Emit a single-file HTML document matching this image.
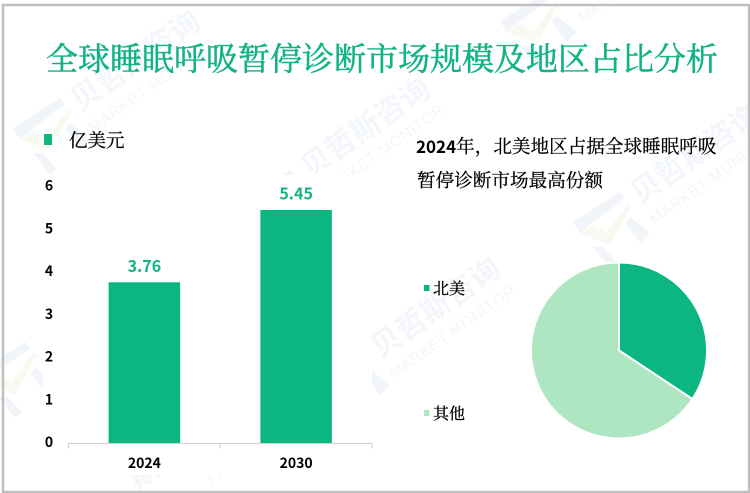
<!DOCTYPE html>
<html lang="zh-CN">
<head>
<meta charset="utf-8">
<title>全球睡眠呼吸暂停诊断市场规模及地区占比分析</title>
<style>
html,body{margin:0;padding:0;background:#fff;overflow:hidden;}
#stage{position:relative;width:750px;height:493px;overflow:hidden;background:#fff;}
svg{position:absolute;left:0;top:0;}
.wm-cn{font-family:"Liberation Sans","Noto Sans CJK SC",sans-serif;font-size:30px;font-weight:700;fill:#f3f6fa;}
.wm-en{font-family:"Liberation Sans",sans-serif;font-size:15.5px;fill:#f3f6fa;letter-spacing:.6px;}
.serif{font-family:"Liberation Serif","Noto Serif CJK SC",serif;}
.bold{font-family:"Noto Sans CJK SC","Liberation Sans",sans-serif;font-weight:700;}
</style>
</head>
<body>
<div id="stage">
<svg id="chart" width="750" height="493" viewBox="0 0 750 493">
  <defs>
    <g id="wm-logo">
      <polygon points="0,32 47,2 52,8 20,32 7,43" fill="#f1f5f9"/>
      <polygon points="7,43 37,55 59,15 55,13 34,42 20,35" fill="#f8faf1"/>
      <polygon points="57,27 77,43 67,53 52,33" fill="#f1f5f9"/>
      <polygon points="20,57 30,57 44,73 37,78" fill="#f1f5f9"/>
    </g>
  </defs>

  <g id="watermarks">
    <use href="#wm-logo" x="13" y="96"/>
    <use href="#wm-logo" x="243" y="168"/>
    <use href="#wm-logo" x="573" y="190"/>
    <use href="#wm-logo" x="500" y="-11"/>
    <use href="#wm-logo" x="-22" y="340"/>
    <use href="#wm-logo" x="313" y="342"/>
    <text class="wm-cn" transform="translate(80,112) rotate(-35)">贝哲斯咨询</text>
    <text class="wm-en" transform="translate(93,133) rotate(-35)">MARKET MONITOR</text>
    <text class="wm-cn" transform="translate(310,179) rotate(-35)">贝哲斯咨询</text>
    <text class="wm-en" transform="translate(323,198) rotate(-35)">MARKET MONITOR</text>
    <text class="wm-cn" transform="translate(640,205) rotate(-35)">贝哲斯咨询</text>
    <text class="wm-en" transform="translate(654,225) rotate(-35)">MARKET MONITOR</text>
    <text class="wm-cn" transform="translate(380,359) rotate(-35)">贝哲斯咨询</text>
    <text class="wm-en" transform="translate(394,379) rotate(-35)">MARKET MONITOR</text>
    <text class="wm-cn" transform="translate(137,490) rotate(-35)">斯咨询</text>
    <text class="wm-en" transform="translate(213,486) rotate(-35)">ITOR</text>
    <text class="wm-en" transform="translate(583,24) rotate(-35)">MARKET MONITOR</text>
  </g>

  <rect x="43" y="175" width="329" height="300" fill="#ffffff"/>

  <text x="46" y="70" class="serif" font-size="32" fill="#10b384" stroke="#10b384" stroke-width=".5" textLength="672" lengthAdjust="spacing">全球睡眠呼吸暂停诊断市场规模及地区占比分析</text>

  <rect x="44" y="134" width="8" height="11" fill="#0cb681"/>
  <text x="69" y="147" class="serif" font-size="18.5" fill="#000" stroke="#000" stroke-width=".25">亿美元</text>

  <g id="y-axis"></g>
  <g id="bars"></g>
  <g id="x-axis"></g>

  <text x="416" y="153" font-size="18.6" fill="#000"><tspan class="bold" font-size="17">2024</tspan><tspan class="serif" stroke="#000" stroke-width=".25">年，北美地区占据全球睡眠呼吸</tspan></text>
  <text x="417" y="187" class="serif" font-size="18.6" fill="#000" stroke="#000" stroke-width=".25">暂停诊断市场最高份额</text>

  <g id="pie"></g>
  <g id="pie-legend"></g>

  <rect x="3" y="5" width="746" height="487" fill="none" stroke="#bfbfbf" stroke-width="2.4"/>
</svg>
</div>

<script>
const barCategories = ['2024', '2030'];
const barValues = [3.76, 5.45];
const yTicks = [0, 1, 2, 3, 4, 5, 6];
const pieLabels = ['北美', '其他'];
const pieValues = [34.3, 65.7];

const NS = 'http://www.w3.org/2000/svg';
const BAR_COLOR = '#0cb681';
const PIE_COLORS = ['#0cb681', '#aee6c2'];

const plot = { left: 68.5, right: 372, base: 443, unit: 42.75, barWidth: 71.5 };
function yScale(v) { return plot.base - v * plot.unit; }
function bandWidth() { return (plot.right - plot.left) / barCategories.length; }
function xCenter(i) { return plot.left + bandWidth() * (i + 0.5); }

function svgEl(tag, attrs, text) {
  const el = document.createElementNS(NS, tag);
  Object.keys(attrs).forEach(function (k) { el.setAttribute(k, attrs[k]); });
  if (text !== undefined) el.textContent = text;
  return el;
}

const yAxis = document.getElementById('y-axis');
yTicks.forEach(function (t) {
  const label = svgEl('text', { x: 49, y: yScale(t) + 4, 'text-anchor': 'middle', 'font-size': 14, 'class': 'bold', fill: '#000' }, String(t));
  
  
  yAxis.appendChild(label);
});

const xAxis = document.getElementById('x-axis');
const axisLine = svgEl('line', { x1: plot.left, x2: plot.right, y1: plot.base + 0.5, y2: plot.base + 0.5, stroke: '#d0d0d0', 'stroke-width': 1 });


xAxis.appendChild(axisLine);
for (let i = 0; i <= barCategories.length; i++) {
  const tx = plot.left + bandWidth() * i;
  const tick = svgEl('line', { x1: tx, x2: tx, y1: plot.base, y2: plot.base + 5.5, stroke: '#d0d0d0', 'stroke-width': 1 });
  
  
  xAxis.appendChild(tick);
}
barCategories.forEach(function (c, i) {
  const label = svgEl('text', { x: xCenter(i), y: 468, 'text-anchor': 'middle', 'font-size': 14, 'class': 'bold', fill: '#000' }, c);
  
  
  xAxis.appendChild(label);
});

const barsGroup = document.getElementById('bars');
barValues.forEach(function (v, i) {
  const top = yScale(v);
  const bar = svgEl('rect', { x: xCenter(i) - plot.barWidth / 2, y: top, width: plot.barWidth, height: plot.base - top, fill: BAR_COLOR });
  
  
  barsGroup.appendChild(bar);
  const value = svgEl('text', { x: xCenter(i), y: top - 10.5, 'text-anchor': 'middle', 'font-size': 16, 'class': 'bold', fill: '#10b384' }, v.toFixed(2));
  
  
  barsGroup.appendChild(value);
});

const pieGeom = { cx: 619, cy: 350.5, r: 88 };
function piePoint(frac) {
  const a = frac * 2 * Math.PI;
  return [pieGeom.cx + pieGeom.r * Math.sin(a), pieGeom.cy - pieGeom.r * Math.cos(a)];
}
const pieGroup = document.getElementById('pie');
const pieTotal = pieValues.reduce(function (s, v) { return s + v; }, 0);
let pieCumulative = 0;
pieValues.forEach(function (v, i) {
  const start = pieCumulative / pieTotal;
  pieCumulative += v;
  const end = pieCumulative / pieTotal;
  const p0 = piePoint(start);
  const p1 = piePoint(end);
  const large = end - start > 0.5 ? 1 : 0;
  const d = 'M' + pieGeom.cx + ' ' + pieGeom.cy + 'L' + p0[0] + ' ' + p0[1] + 'A' + pieGeom.r + ' ' + pieGeom.r + ' 0 ' + large + ' 1 ' + p1[0] + ' ' + p1[1] + 'Z';
  const slice = svgEl('path', { d: d, fill: PIE_COLORS[i], stroke: '#ffffff', 'stroke-width': 2 });
  
  
  pieGroup.appendChild(slice);
});

const legendGroup = document.getElementById('pie-legend');
pieLabels.forEach(function (name, i) {
  const cy = 288 + i * 125;
  const swatch = svgEl('rect', { x: 424, y: cy - 3, width: 5.5, height: 6, fill: PIE_COLORS[i] });
  
  
  legendGroup.appendChild(swatch);
  const label = svgEl('text', { x: 433, y: cy + 6, 'font-size': 16, 'class': 'serif', fill: '#000', stroke: '#000', 'stroke-width': 0.3 }, name);
  
  
  legendGroup.appendChild(label);
});
</script>
</body>
</html>
